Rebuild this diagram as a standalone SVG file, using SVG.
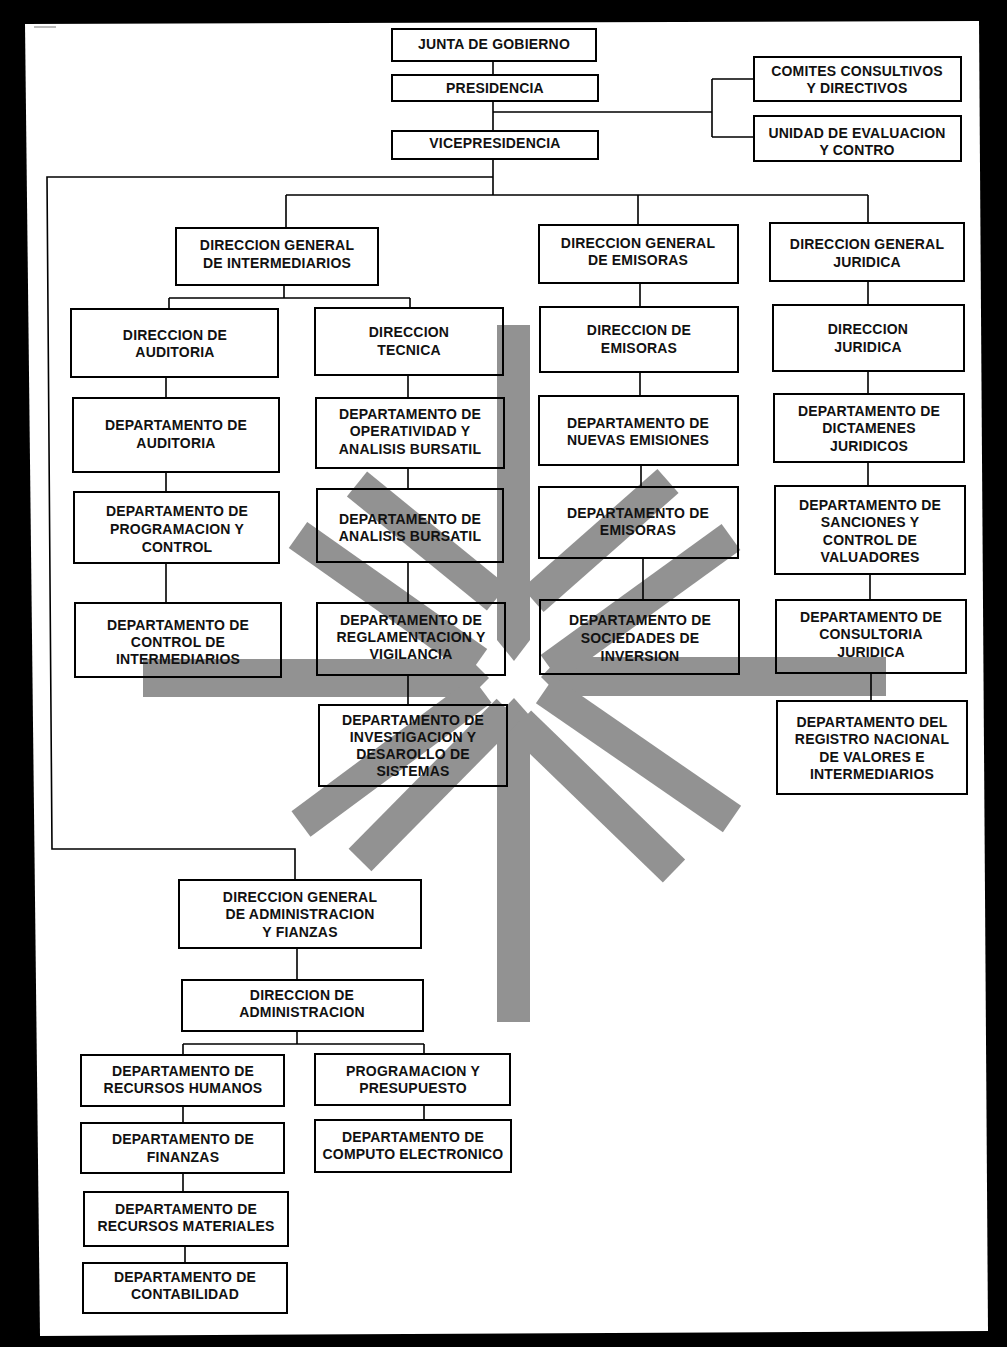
<svg xmlns="http://www.w3.org/2000/svg" width="1007" height="1347" viewBox="0 0 1007 1347">
<defs>
<style>
.b{fill:none;stroke:#000;stroke-width:2}
.t{font-family:"Liberation Sans",Arial,sans-serif;font-size:14px;font-weight:bold;letter-spacing:0.2px;text-anchor:middle;fill:#111}
.c{fill:none;stroke:#000;stroke-width:1.6}
.w{fill:#929292}
.d{fill:none;stroke:#929292;stroke-width:32;stroke-linecap:butt}
</style>
</defs>
<rect x="0" y="0" width="1007" height="1347" fill="#000"/>
<polygon points="25,24 979,21 988,1331 40,1336" fill="#fff"/>
<line x1="34" y1="27" x2="56" y2="27" stroke="#777" stroke-width="1"/>

<g id="watermark">
<polygon class="w" points="497,325 530,325 530,640 514,661 497,640"/>
<polygon class="w" points="497,1022 530,1022 530,716 514,698 497,716"/>
<polygon class="w" points="143,659 470,659 489,678 470,697 143,697"/>
<polygon class="w" points="886,657 886,696 560,696 541,677 560,657"/>
<line class="d" x1="298" y1="535" x2="478" y2="662"/>
<line class="d" x1="357" y1="484" x2="497" y2="598"/>
<line class="d" x1="668" y1="481" x2="533" y2="600"/>
<line class="d" x1="731" y1="537" x2="550" y2="668"/>
<line class="d" x1="482" y1="690" x2="301" y2="824"/>
<line class="d" x1="508" y1="710" x2="360" y2="860"/>
<line class="d" x1="545" y1="690" x2="732" y2="819"/>
<line class="d" x1="520" y1="722" x2="674" y2="871"/>
</g>

<g id="connectors">
<path class="c" d="M493 61V75M493 101V131M493 112H712M712 79V137M712 79H754M712 137H754"/>
<path class="c" d="M493 159V195M493 177H47L52 849H295V880"/>
<path class="c" d="M286 195H868M286 195V228M638 195V225M868 195V223"/>
<path class="c" d="M284 285V298M169 298H410M169 298V309M410 298V308"/>
<path class="c" d="M166 377V398M166 472V492M166 563V603"/>
<path class="c" d="M408 375V398M408 468V489M408 562V603M408 675V705"/>
<path class="c" d="M640 283V307M640 372V396M641 465V487M643 558V600"/>
<path class="c" d="M868 281V305M868 371V394M868 462V486M870 574V600M871 673V701"/>
<path class="c" d="M297 948V980M297 1031V1044M183 1044H424M183 1044V1055M424 1044V1054"/>
<path class="c" d="M183 1106V1123M183 1173V1192M185 1246V1263M424 1105V1120"/>
</g>

<g id="junta"><rect class="b" x="392" y="29" width="204" height="32"/><text class="t" x="494" y="49">JUNTA DE GOBIERNO</text></g>
<g id="presidencia"><rect class="b" x="392" y="75" width="206" height="26"/><text class="t" x="495" y="93">PRESIDENCIA</text></g>
<g id="vicepresidencia"><rect class="b" x="392" y="131" width="206" height="28"/><text class="t" x="495" y="148">VICEPRESIDENCIA</text></g>
<g id="comites"><rect class="b" x="754" y="57" width="207" height="44"/><text class="t" x="857" y="76">COMITES CONSULTIVOS</text><text class="t" x="857" y="93">Y DIRECTIVOS</text></g>
<g id="unidad"><rect class="b" x="754" y="116" width="207" height="45"/><text class="t" x="857" y="138">UNIDAD DE EVALUACION</text><text class="t" x="857" y="155">Y CONTRO</text></g>

<g id="dg-intermediarios"><rect class="b" x="176" y="228" width="202" height="57"/><text class="t" x="277" y="250">DIRECCION GENERAL</text><text class="t" x="277" y="268">DE INTERMEDIARIOS</text></g>
<g id="dg-emisoras"><rect class="b" x="539" y="225" width="199" height="58"/><text class="t" x="638" y="248">DIRECCION GENERAL</text><text class="t" x="638" y="265">DE EMISORAS</text></g>
<g id="dg-juridica"><rect class="b" x="770" y="223" width="194" height="58"/><text class="t" x="867" y="249">DIRECCION GENERAL</text><text class="t" x="867" y="267">JURIDICA</text></g>

<g id="dir-auditoria"><rect class="b" x="71" y="309" width="207" height="68"/><text class="t" x="175" y="340">DIRECCION DE</text><text class="t" x="175" y="357">AUDITORIA</text></g>
<g id="dir-tecnica"><rect class="b" x="315" y="308" width="188" height="67"/><text class="t" x="409" y="337">DIRECCION</text><text class="t" x="409" y="355">TECNICA</text></g>
<g id="dir-emisoras"><rect class="b" x="540" y="307" width="198" height="65"/><text class="t" x="639" y="335">DIRECCION DE</text><text class="t" x="639" y="353">EMISORAS</text></g>
<g id="dir-juridica"><rect class="b" x="773" y="305" width="191" height="66"/><text class="t" x="868" y="334">DIRECCION</text><text class="t" x="868" y="352">JURIDICA</text></g>

<g id="dep-auditoria"><rect class="b" x="73" y="398" width="206" height="74"/><text class="t" x="176" y="430">DEPARTAMENTO DE</text><text class="t" x="176" y="448">AUDITORIA</text></g>
<g id="dep-operatividad"><rect class="b" x="316" y="398" width="188" height="70"/><text class="t" x="410" y="419">DEPARTAMENTO DE</text><text class="t" x="410" y="436">OPERATIVIDAD Y</text><text class="t" x="410" y="454">ANALISIS BURSATIL</text></g>
<g id="dep-nuevas-emisiones"><rect class="b" x="539" y="396" width="199" height="69"/><text class="t" x="638" y="428">DEPARTAMENTO DE</text><text class="t" x="638" y="445">NUEVAS EMISIONES</text></g>
<g id="dep-dictamenes"><rect class="b" x="774" y="394" width="190" height="68"/><text class="t" x="869" y="416">DEPARTAMENTO DE</text><text class="t" x="869" y="433">DICTAMENES</text><text class="t" x="869" y="451">JURIDICOS</text></g>

<g id="dep-programacion"><rect class="b" x="74" y="492" width="205" height="71"/><text class="t" x="177" y="516">DEPARTAMENTO DE</text><text class="t" x="177" y="534">PROGRAMACION Y</text><text class="t" x="177" y="552">CONTROL</text></g>
<g id="dep-analisis"><rect class="b" x="317" y="489" width="186" height="73"/><text class="t" x="410" y="524">DEPARTAMENTO DE</text><text class="t" x="410" y="541">ANALISIS BURSATIL</text></g>
<g id="dep-emisoras"><rect class="b" x="539" y="487" width="199" height="71"/><text class="t" x="638" y="518">DEPARTAMENTO DE</text><text class="t" x="638" y="535">EMISORAS</text></g>
<g id="dep-sanciones"><rect class="b" x="775" y="486" width="190" height="88"/><text class="t" x="870" y="510">DEPARTAMENTO DE</text><text class="t" x="870" y="527">SANCIONES Y</text><text class="t" x="870" y="545">CONTROL DE</text><text class="t" x="870" y="562">VALUADORES</text></g>

<g id="dep-control-intermediarios"><rect class="b" x="75" y="603" width="206" height="74"/><text class="t" x="178" y="630">DEPARTAMENTO DE</text><text class="t" x="178" y="647">CONTROL DE</text><text class="t" x="178" y="664">INTERMEDIARIOS</text></g>
<g id="dep-reglamentacion"><rect class="b" x="317" y="603" width="188" height="72"/><text class="t" x="411" y="625">DEPARTAMENTO DE</text><text class="t" x="411" y="642">REGLAMENTACION Y</text><text class="t" x="411" y="659">VIGILANCIA</text></g>
<g id="dep-sociedades"><rect class="b" x="540" y="600" width="199" height="74"/><text class="t" x="640" y="625">DEPARTAMENTO DE</text><text class="t" x="640" y="643">SOCIEDADES DE</text><text class="t" x="640" y="661">INVERSION</text></g>
<g id="dep-consultoria"><rect class="b" x="776" y="600" width="190" height="73"/><text class="t" x="871" y="622">DEPARTAMENTO DE</text><text class="t" x="871" y="639">CONSULTORIA</text><text class="t" x="871" y="657">JURIDICA</text></g>

<g id="dep-investigacion"><rect class="b" x="319" y="705" width="188" height="81"/><text class="t" x="413" y="725">DEPARTAMENTO DE</text><text class="t" x="413" y="742">INVESTIGACION Y</text><text class="t" x="413" y="759">DESAROLLO DE</text><text class="t" x="413" y="776">SISTEMAS</text></g>
<g id="dep-registro"><rect class="b" x="777" y="701" width="190" height="93"/><text class="t" x="872" y="727">DEPARTAMENTO DEL</text><text class="t" x="872" y="744">REGISTRO NACIONAL</text><text class="t" x="872" y="762">DE VALORES E</text><text class="t" x="872" y="779">INTERMEDIARIOS</text></g>

<g id="dg-administracion"><rect class="b" x="179" y="880" width="242" height="68"/><text class="t" x="300" y="902">DIRECCION GENERAL</text><text class="t" x="300" y="919">DE ADMINISTRACION</text><text class="t" x="300" y="937">Y FIANZAS</text></g>
<g id="dir-administracion"><rect class="b" x="182" y="980" width="241" height="51"/><text class="t" x="302" y="1000">DIRECCION DE</text><text class="t" x="302" y="1017">ADMINISTRACION</text></g>
<g id="dep-recursos-humanos"><rect class="b" x="81" y="1055" width="203" height="51"/><text class="t" x="183" y="1076">DEPARTAMENTO DE</text><text class="t" x="183" y="1093">RECURSOS HUMANOS</text></g>
<g id="programacion-presupuesto"><rect class="b" x="315" y="1054" width="195" height="51"/><text class="t" x="413" y="1076">PROGRAMACION Y</text><text class="t" x="413" y="1093">PRESUPUESTO</text></g>
<g id="dep-finanzas"><rect class="b" x="81" y="1123" width="203" height="50"/><text class="t" x="183" y="1144">DEPARTAMENTO DE</text><text class="t" x="183" y="1162">FINANZAS</text></g>
<g id="dep-computo"><rect class="b" x="315" y="1120" width="196" height="52"/><text class="t" x="413" y="1142">DEPARTAMENTO DE</text><text class="t" x="413" y="1159">COMPUTO ELECTRONICO</text></g>
<g id="dep-recursos-materiales"><rect class="b" x="84" y="1192" width="204" height="54"/><text class="t" x="186" y="1214">DEPARTAMENTO DE</text><text class="t" x="186" y="1231">RECURSOS MATERIALES</text></g>
<g id="dep-contabilidad"><rect class="b" x="83" y="1263" width="204" height="50"/><text class="t" x="185" y="1282">DEPARTAMENTO DE</text><text class="t" x="185" y="1299">CONTABILIDAD</text></g>
</svg>
